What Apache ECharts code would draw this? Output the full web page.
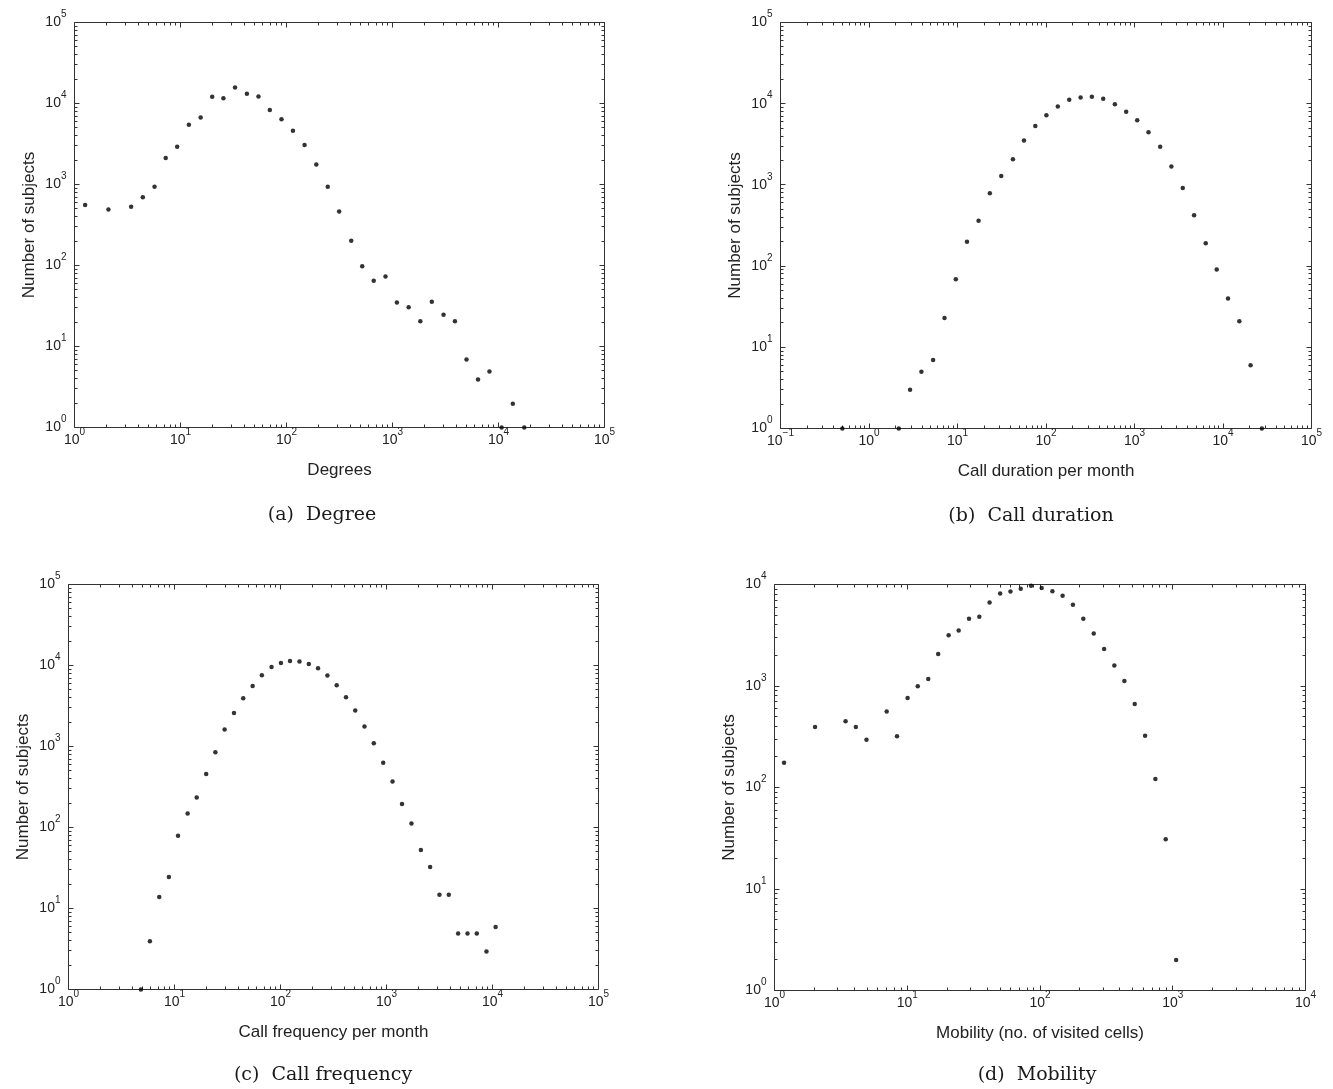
<!DOCTYPE html>
<html>
<head>
<meta charset="utf-8">
<script src="https://cdn.jsdelivr.net/npm/echarts@6/dist/echarts.min.js"></script>
<style>
html,body{margin:0;padding:0;background:#fff;}
#chart{width:1333px;height:1089px;}
</style>
</head>
<body>
<div id="chart"></div>
<script>
// ---------- data ----------
// (a) Degree
const degreeX = [1.26, 2.09, 3.42, 4.41, 5.69, 7.25, 9.3, 12.0, 15.5, 19.9, 25.4, 32.7, 42.3, 54.4, 69.6, 89.7, 115, 148, 191, 245, 314, 408, 518, 665, 859, 1100, 1420, 1830, 2350, 3030, 3880, 4990, 6410, 8220, 10700, 13650, 17500];
const degreeY = [560, 490, 530, 695, 935, 2130, 2920, 5460, 6720, 12100, 11600, 15800, 13200, 12200, 8300, 6400, 4600, 3080, 1760, 935, 464, 202, 98, 65, 73, 35, 30.5, 20.5, 35.6, 24.6, 20.5, 6.9, 3.9, 4.9, 1, 1.96, 1];
// (b) Call duration
const durationX = [0.5, 2.17, 2.91, 3.91, 5.3, 7.13, 9.57, 12.8, 17.3, 23.2, 31.2, 42.3, 56.4, 75.7, 101, 136, 183, 246, 330, 443, 600, 805, 1073, 1440, 1950, 2610, 3510, 4710, 6380, 8490, 11400, 15300, 20500, 27500];
const durationY = [1, 1, 3.0, 5.0, 7.0, 23, 69, 200, 363, 790, 1290, 2070, 3510, 5320, 7210, 9220, 11200, 11900, 12200, 11500, 9850, 7950, 6250, 4450, 2940, 1690, 916, 422, 191, 91, 40, 21, 6.0, 1];
// (c) Call frequency
const frequencyX = [4.82, 5.86, 7.18, 8.85, 10.8, 13.3, 16.2, 19.9, 24.3, 29.7, 36.4, 44.5, 54.6, 66.7, 82.3, 101, 123, 151, 185, 226, 277, 339, 415, 507, 620, 759, 931, 1140, 1400, 1720, 2110, 2580, 3160, 3870, 4740, 5810, 7110, 8770, 10700];
const frequencyY = [1, 3.95, 13.9, 24.5, 79, 149, 235, 456, 851, 1620, 2600, 3940, 5600, 7580, 9610, 10700, 11400, 11200, 10400, 9250, 7510, 5720, 4060, 2780, 1770, 1100, 630, 371, 195, 112, 52.7, 32.6, 14.8, 14.8, 4.9, 4.9, 4.9, 2.94, 5.93];
// (d) Mobility
const mobilityX = [1.18, 2.02, 3.43, 4.10, 4.93, 7.0, 8.37, 10.06, 12.0, 14.4, 17.1, 20.5, 24.4, 29.2, 34.9, 41.7, 50.1, 59.9, 71.6, 85.6, 103, 124, 148, 177, 212, 254, 304, 363, 432, 517, 619, 740, 885, 1060];
const mobilityY = [175, 395, 449, 395, 296, 560, 320, 763, 995, 1175, 2070, 3170, 3520, 4590, 4800, 6650, 8150, 8530, 9060, 9700, 9250, 8600, 7730, 6300, 4590, 3290, 2320, 1590, 1120, 666, 324, 121, 31, 2.0];

// axis ranges (tick labels are the powers of ten inside them)
const degreeXRange = [1, 1e5],    degreeYRange = [1, 1e5];
const durationXRange = [0.1, 1e5], durationYRange = [1, 1e5];
const frequencyXRange = [1, 1e5],  frequencyYRange = [1, 1e5];
const mobilityXRange = [1, 1e4],   mobilityYRange = [1, 1e4];

// texts
const xNames = ['Degrees', 'Call duration per month', 'Call frequency per month', 'Mobility (no. of visited cells)'];
const yName = 'Number of subjects';
const captions = ['(a)  Degree', '(b)  Call duration', '(c)  Call frequency', '(d)  Mobility'];

// ---------- build ----------
const panels = [
  {x: degreeX, y: degreeY, xr: degreeXRange, yr: degreeYRange},
  {x: durationX, y: durationY, xr: durationXRange, yr: durationYRange},
  {x: frequencyX, y: frequencyY, xr: frequencyXRange, yr: frequencyYRange},
  {x: mobilityX, y: mobilityY, xr: mobilityXRange, yr: mobilityYRange}
];

const gridBoxes = [
  {left: 74.5, top: 22.5, width: 530, height: 405},
  {left: 780.5, top: 22.5, width: 531, height: 406},
  {left: 68.5, top: 584.5, width: 530, height: 405},
  {left: 774.5, top: 584.5, width: 531, height: 406}
];
const captionPos = [[322, 515], [1031, 516], [323, 1075], [1037, 1075]];

const INK = '#222';
const SANS = '"Liberation Sans", Arial, Helvetica, sans-serif';

function powLabel(v) {
  const e = Math.round(Math.log10(v));
  const s = e < 0 ? '\u2212' + Math.abs(e) : String(e);
  return '{b|10}{s|' + s + '}';
}
const labelRich = {
  b: {fontSize: 14, lineHeight: 26, color: INK, fontFamily: SANS},
  s: {fontSize: 10, lineHeight: 7, verticalAlign: 'top', color: INK, fontFamily: SANS}
};

function logTicks(r) {
  const e0 = Math.round(Math.log10(r[0])), e1 = Math.round(Math.log10(r[1]));
  const out = [];
  for (let e = e0; e <= e1; e++) {
    const base = Math.pow(10, e);
    out.push({v: base, major: true});
    if (e < e1) for (let m = 2; m <= 9; m++) out.push({v: m * base, major: false});
  }
  return out;
}

function ln(x1, y1, x2, y2) {
  return {type: 'line', shape: {x1: x1, y1: y1, x2: x2, y2: y2},
          style: {stroke: '#333', lineWidth: 1}};
}

function tickSeries(i, xr, yr) {
  return {
    type: 'custom', xAxisIndex: i, yAxisIndex: i, silent: true, clip: false,
    data: [[xr[0], yr[0]]],
    renderItem: function (params, api) {
      const lo = api.coord([xr[0], yr[0]]);
      const hi = api.coord([xr[1], yr[1]]);
      const left = lo[0], bottom = lo[1], right = hi[0], top = hi[1];
      const kids = [];
      logTicks(xr).forEach(function (t) {
        const px = Math.floor(api.coord([t.v, yr[0]])[0]) + 0.5;
        const L = t.major ? 5 : 3;
        kids.push(ln(px, bottom, px, bottom - L));
        kids.push(ln(px, top, px, top + L));
      });
      logTicks(yr).forEach(function (t) {
        const py = Math.floor(api.coord([xr[0], t.v])[1]) + 0.5;
        const L = t.major ? 5 : 3;
        kids.push(ln(left, py, left + L, py));
        kids.push(ln(right, py, right - L, py));
      });
      return {type: 'group', children: kids};
    }
  };
}

const option = {
  backgroundColor: '#fff',
  animation: false,
  grid: gridBoxes.map(function (g) {
    return Object.assign({show: true, borderColor: '#333', borderWidth: 1,
      backgroundColor: 'transparent', containLabel: false, outerBoundsMode: 'none'}, g);
  }),
  xAxis: panels.map(function (p, i) {
    return {
      type: 'log', logBase: 10, gridIndex: i, min: p.xr[0], max: p.xr[1],
      name: xNames[i], nameLocation: 'middle', nameGap: 34,
      nameTextStyle: {fontSize: 17, color: INK, fontFamily: SANS},
      axisLine: {show: false}, axisTick: {show: false}, splitLine: {show: false}, minorTick: {show: false},
      axisLabel: {formatter: powLabel, rich: labelRich, margin: 0, showMinLabel: true, showMaxLabel: true, hideOverlap: false}
    };
  }),
  yAxis: panels.map(function (p, i) {
    return {
      type: 'log', logBase: 10, gridIndex: i, min: p.yr[0], max: p.yr[1],
      name: yName, nameLocation: 'middle', nameGap: 37,
      nameTextStyle: {fontSize: 17, color: INK, fontFamily: SANS},
      axisLine: {show: false}, axisTick: {show: false}, splitLine: {show: false}, minorTick: {show: false},
      axisLabel: {formatter: powLabel, rich: labelRich, margin: 8, showMinLabel: true, showMaxLabel: true, hideOverlap: false}
    };
  }),
  series: panels.map(function (p, i) {
    return {
      type: 'scatter', xAxisIndex: i, yAxisIndex: i, clip: false,
      symbol: 'circle', symbolSize: 4.5,
      itemStyle: {color: '#000'},
      data: p.x.map(function (v, k) { return [v, p.y[k]]; })
    };
  }).concat(panels.map(function (p, i) { return tickSeries(i, p.xr, p.yr); })),
  graphic: captions.map(function (c, i) {
    return {
      type: 'text', x: captionPos[i][0], y: captionPos[i][1],
      style: {text: c, fontSize: 19, fontFamily: '"DejaVu Serif", "Liberation Serif", serif',
              fill: '#1a1a1a', align: 'center', verticalAlign: 'middle'}
    };
  })
};

const chart = echarts.init(document.getElementById('chart'), null, {renderer: 'canvas'});
chart.setOption(option);
</script>
</body>
</html>
